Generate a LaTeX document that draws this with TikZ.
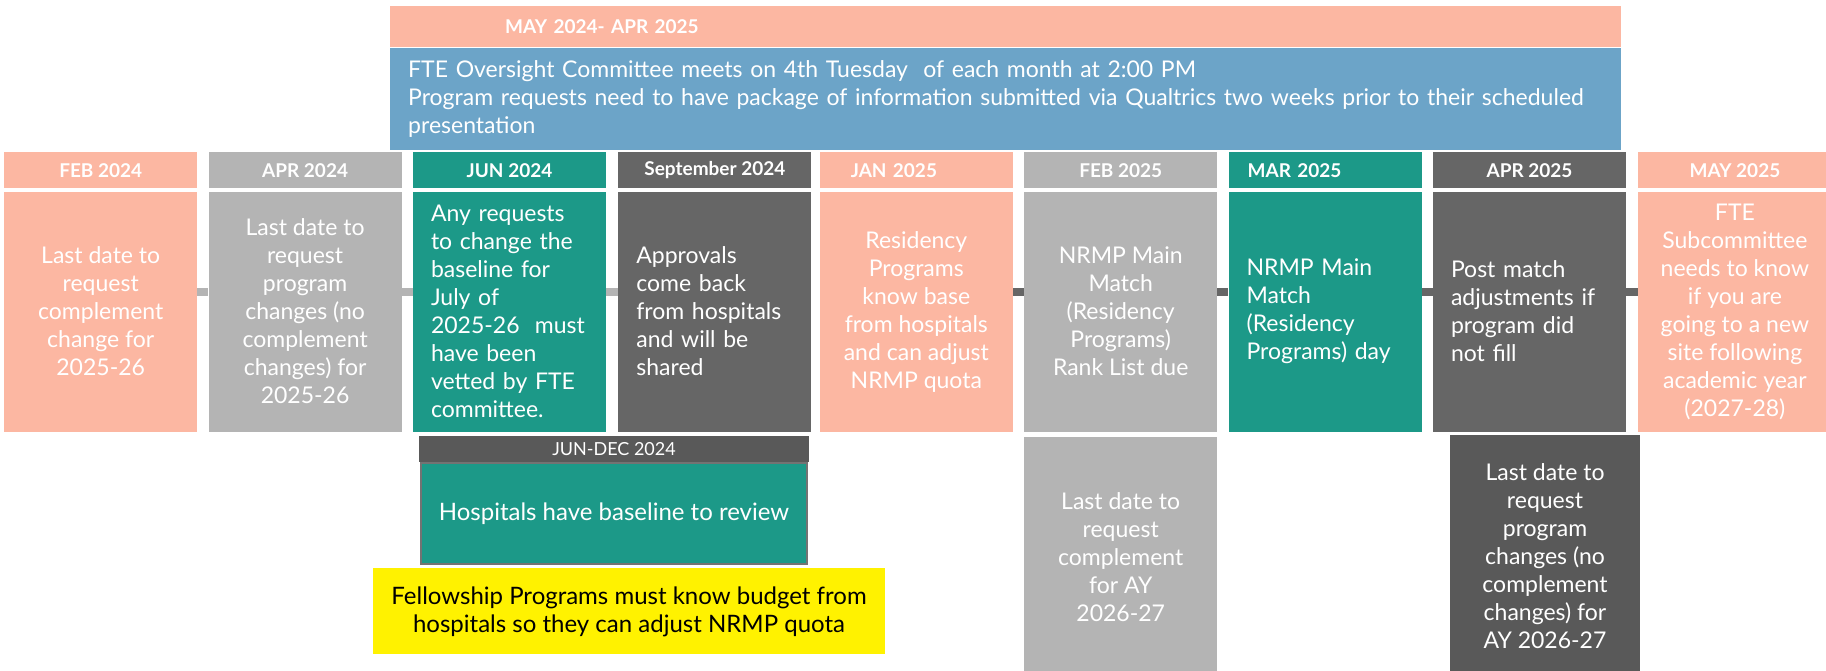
\documentclass[tikz,border=0pt]{standalone}
\usepackage{fontspec}
\setmainfont{Lato}
\usetikzlibrary{positioning}

\definecolor{salmon}{HTML}{FCB7A2}
\definecolor{skyblue}{HTML}{6CA4C8}
\definecolor{tealgreen}{HTML}{1C9988}
\definecolor{litegray}{HTML}{B4B4B4}
\definecolor{midgray}{HTML}{666666}
\definecolor{lowgray}{HTML}{595959}
\definecolor{edgegray}{HTML}{737373}

\newcommand\tlbody{\fontsize{23}{28}\selectfont}
\newcommand\tlwide{\fontsize{24}{28}\selectfont}
\newcommand\tlhead{\bfseries\fontsize{19}{20}\selectfont}
\newcommand\tlspan{\fontsize{18}{20}\selectfont}

\begin{document}
\begin{tikzpicture}[x=1pt, y=-1pt, node distance=11pt]

\tikzset{
    head/.style={
        minimum width=193pt,
        minimum height=36pt,
        inner sep=0pt,
        text=white,
        font=\tlhead
    },
    headl/.style={head, text width=193pt, align=left},
    body/.style={
        minimum width=193pt,
        minimum height=240pt,
        inner sep=0pt,
        text=white,
        align=center,
        font=\tlbody
    },
    bodyl/.style={body, text width=157pt, inner xsep=18pt, align=left},
    lite/.style={litegray, line width=8pt},
    dark/.style={midgray, line width=8pt}
}

\useasboundingbox (0,0) rectangle (1826,671);

% range bar and committee note
\node[anchor=north west, fill=salmon, minimum width=1231pt, minimum height=41pt,
      text width=1001pt, inner xsep=115pt, inner ysep=0pt, align=left,
      text=white, font=\bfseries\fontsize{19}{22}\selectfont] (range) at (390,6) {MAY 2024- APR 2025};
\node[below=0pt of range, fill=skyblue, minimum width=1231pt, minimum height=102pt,
      text width=1195pt, inner xsep=18pt, inner ysep=0pt, align=left,
      text=white, font=\tlbody] (ftec) {FTE Oversight Committee meets on 4th Tuesday\ \ of each month at 2:00 PM\\Program requests need to have package of information submitted via Qualtrics two weeks prior to their scheduled\\presentation};

% timeline
\node[head, fill=salmon, anchor=north west] (feb24h) at (4,152) {FEB 2024};
\node[body, fill=salmon, below=3pt of feb24h] (feb24b) {Last date to\\request\\complement\\change for\\2025-26};

\node[head, fill=litegray, right=of feb24h] (apr24h) {APR 2024};
\node[body, fill=litegray, below=3pt of apr24h] (apr24b) {Last date to\\request\\program\\changes (no\\complement\\changes) for\\2025-26};

\node[head, fill=tealgreen, right=of apr24h] (jun24h) {JUN 2024};
\node[bodyl, fill=tealgreen, below=3pt of jun24h] (jun24b) {Any requests\\to change the\\baseline for\\July of\\2025-26\ \ must\\have been\\vetted by FTE\\committee.};

\node[head, fill=midgray, right=12pt of jun24h] (sep24h) {September 2024};
\node[bodyl, fill=midgray, below=3pt of sep24h] (sep24b) {Approvals\\come back\\from hospitals\\and will be\\shared};

\node[headl, fill=salmon, right=8pt of sep24h] (jan25h) {\hspace*{31pt}JAN 2025};
\node[body, fill=salmon, below=3pt of jan25h] (jan25b) {Residency\\Programs\\know base\\from hospitals\\and can adjust\\NRMP quota};

\node[head, fill=litegray, right=of jan25h] (feb25h) {FEB 2025};
\node[body, fill=litegray, below=3pt of feb25h] (feb25b) {NRMP Main\\Match\\(Residency\\Programs)\\Rank List due};

\node[headl, fill=tealgreen, right=of feb25h] (mar25h) {\hspace*{19pt}MAR 2025};
\node[bodyl, fill=tealgreen, below=3pt of mar25h] (mar25b) {NRMP Main\\Match\\(Residency\\Programs) day};

\node[head, fill=midgray, right=of mar25h] (apr25h) {APR 2025};
\node[bodyl, fill=midgray, below=3pt of apr25h] (apr25b) {Post match\\adjustments if\\program did\\not fill};

\node[head, fill=salmon, right=12pt of apr25h] (may25h) {MAY 2025};
\node[body, fill=salmon, below=3pt of may25h] (may25b) {FTE\\Subcommittee\\needs to know\\if you are\\going to a new\\site following\\academic year\\(2027-28)};

\coordinate (axis) at (0,292);
\draw[lite] (feb24b.east |- axis) -- (apr24b.west |- axis);
\draw[lite] (apr24b.east |- axis) -- (jun24b.west |- axis);
\draw[lite] (jun24b.east |- axis) -- (sep24b.west |- axis);
\draw[dark] (jan25b.east |- axis) -- (feb25b.west |- axis);
\draw[dark] (feb25b.east |- axis) -- (mar25b.west |- axis);
\draw[dark] (mar25b.east |- axis) -- (apr25b.west |- axis);
\draw[dark] (apr25b.east |- axis) -- (may25b.west |- axis);

% lower row
\node[anchor=north west, fill=lowgray, minimum width=390pt, minimum height=26pt, inner sep=0pt,
      text=white, font=\tlspan] (jundec) at ([xshift=6pt,yshift=-4pt]jun24b.south west) {JUN-DEC 2024};
\node[below=0pt of jundec, fill=tealgreen, draw=edgegray, line width=2pt, minimum width=386pt,
      minimum height=101pt, text=white, font=\tlwide] (hosp) {Hospitals have baseline to review};
\node[below=3pt of hosp, xshift=15pt, fill=yellow, minimum width=512pt, minimum height=86pt,
      inner sep=0pt, align=center, font=\tlwide] (fellow) {Fellowship Programs must know budget from\\hospitals so they can adjust NRMP quota};

\node[body, fill=litegray, below=5pt of feb25b] (feb25x) {Last date to\\request\\complement\\for AY\\2026-27};
\node[body, fill=lowgray, minimum width=190pt, minimum height=242pt, anchor=north west]
      (apr25x) at ([xshift=17pt,yshift=-3pt]apr25b.south west) {Last date to\\request\\program\\changes (no\\complement\\changes) for\\AY 2026-27};
    %
\end{tikzpicture}
\end{document}
